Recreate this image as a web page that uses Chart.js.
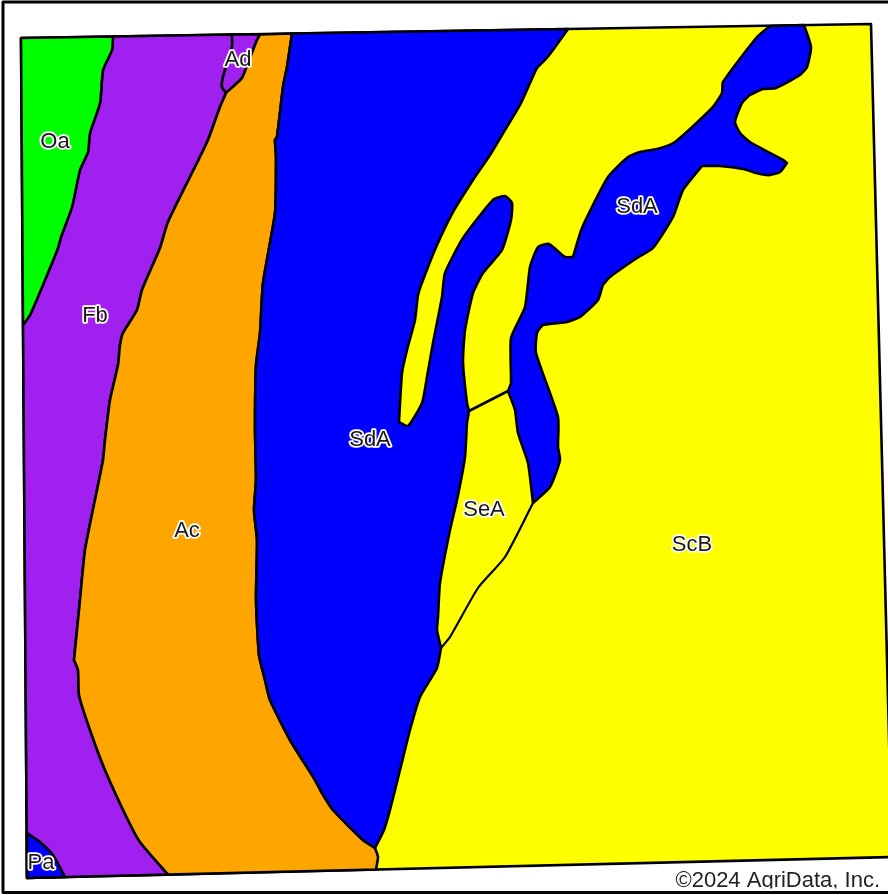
<!DOCTYPE html>
<html><head><meta charset="utf-8">
<style>html,body{margin:0;padding:0;background:#fff;overflow:hidden}canvas{display:block;filter:blur(0.6px)}</style>
<script src="https://cdn.jsdelivr.net/npm/chart.js@4"></script>
</head><body><canvas id="c" width="888" height="895"></canvas>
<script>
// Map units: x/y of the soil map sheet. A repeated vertex marks a sharp corner.
const fieldOutline=[[21,38],[871,24],[892,857],[27,878]];
const frameOutline=[[3,2],[900,2],[900,892.5],[3,892.5],[3,2]];
const oaEast=[[113,36.5],[113,36.5],[112,50],[103,70],[100,103],[90,133],[88,152],[80,170],[72,207],[61,237],[58,248],[45,280],[30,315],[23,325],[23,325]];
const fbAcEdge=[[226,93],[226,93],[220,107],[208,140],[197,163],[168,222],[160,248],[142,290],[137,310],[123,333],[120,345],[118,365],[110,400],[105,440],[103,460],[97,490],[85,550],[80,600],[74,660],[74,660],[78,670],[79,695],[90,730],[105,770],[127,818],[140,842],[168,874.6],[168,874.6]];
const adEast=[[226,93],[226,93],[242,78],[248,63],[257,40],[260,34.5],[260,34.5]];
const adWest=[[232,34.5],[232,34.5],[232,47],[223,77],[222,87],[226,93],[226,93]];
const acSdaEdge=[[292,33.5],[292,33.5],[287,67],[283,87],[277,137],[275,140],[276,157],[275,213],[263,283],[260,333],[256,365],[255,430],[256,480],[254,510],[257,540],[256,600],[259,655],[265,680],[270,700],[290,740],[315,780],[322,793],[333,810],[363,840],[375,848],[375,848]];
const acFoot=[[375,848],[378,857],[376,869.5],[376,869.5]];
const sdaEast=[[568,29],[568,29],[553,50],[545,60],[537,68],[530,83],[520,105],[505,130],[490,155],[473,180],[453,212],[437,245],[423,280],[418,295],[415,320],[407,350],[402,373],[399,422],[399,422],[408,426],[422,403],[427,377],[433,343],[442,297],[445,273],[463,238],[493,200],[505,196],[512,203],[511,220],[502,250],[483,273],[473,293],[465,330],[463,362],[467,403],[469,411],[469,411],[467,423],[465,457],[457,500],[450,530],[440,583],[438,617],[437,630],[441,648],[441,648],[437,668],[420,697],[410,730],[400,770],[390,810],[384,830],[375,848],[375,848]];
const sdaNorth=[[508,391],[508,391],[511,383],[511,338],[525,307],[530,267],[538,247],[549,244],[565,257],[573,257],[573,257],[582,228],[608,177],[628,157],[640,152],[657,149],[675,142],[712,108],[722,93],[723,82],[757,37],[770,26],[770,26],[804,25],[804,25],[811,47],[807,67],[800,75],[776,88],[763,89],[750,95],[742,103],[735,122],[740,133],[750,142],[783,160],[787,163],[787,163],[780,172],[770,175],[760,174],[743,169],[720,166],[702,166],[702,166],[683,190],[673,217],[653,248],[637,258],[610,277],[603,285],[598,300],[580,317],[567,322],[543,325],[537,333],[536,353],[558,417],[558,447],[560,460],[550,487],[533,503],[533,503],[528,463],[518,433],[515,410],[508,391],[508,391]];
const seaNorth=[[469,411],[508,391]];
const seaSouth=[[533,503],[505,557],[478,588],[450,637],[441,648]];
const paOutline=[[27,833],[27,833],[40,842],[53,855],[65,877],[65,877],[27,878],[27,878]];
const soilNames=['Oa','Ad','Fb','SdA','SdA','Ac','SeA','ScB','Pa'];
const soilSpotsX=[55,238,95,370,637,187,484,692,41];
const soilSpotsY=[142,60,316,440,207,531,510,545,863];
const creditText='©2024 AgriData, Inc.';
const creditSpot=[880,881];

const pts=a=>a.map(p=>({x:p[0],y:p[1]}));
const closed=a=>pts([...a,a[0]]);
const back=a=>[...a].reverse();
const layer=(data,color,width,curve)=>({data,backgroundColor:color||'transparent',fill:color?'shape':false,borderColor:'#000',borderWidth:width||2.6,pointRadius:0,tension:curve===undefined?0.18:curve,borderJoinStyle:'round',borderCapStyle:'round'});

// Bottom-most first; reversed below since Chart.js paints the first dataset last.
const layers=[
 layer(closed(fieldOutline),'#ffff00',2.6,0),
 layer(closed([[23,325],[27,878],[27,878],...back(fbAcEdge),...back(adWest),[113,36.5],...oaEast]),'#a020f0'),
 layer(closed([[21,38],[21,38],...oaEast,[21,38]]),'#00ff00'),
 layer(closed([...adWest,...adEast]),'#a020f0'),
 layer(closed([...adEast,...acSdaEdge,...acFoot,...back(fbAcEdge)]),'#ffa500'),
 layer(closed([...acSdaEdge,...back(sdaEast)]),'#0000ff'),
 layer(pts(sdaNorth),'#0000ff'),
 layer(pts(seaNorth),null,2.6,0),
 layer(pts(seaSouth),null,2.2),
 layer(closed(paOutline),'#0000ff'),
 layer(pts(frameOutline),null,3,0)
];

const mapText={id:'mapText',afterDatasetsDraw(chart){
  const {ctx,scales:{x,y}}=chart;
  ctx.save();
  ctx.font='22px "Liberation Sans",Arial,sans-serif';
  ctx.textAlign='center';ctx.textBaseline='middle';ctx.lineJoin='round';
  soilNames.forEach((n,i)=>{
    const px=x.getPixelForValue(soilSpotsX[i]),py=y.getPixelForValue(soilSpotsY[i]);
    ctx.lineWidth=3.5;ctx.strokeStyle='#fff';ctx.strokeText(n,px,py);
    ctx.fillStyle='#1a1a1a';ctx.fillText(n,px,py);
  });
  ctx.beginPath();ctx.rect(0,0,chart.width,y.getPixelForValue(888.5));ctx.clip();
  ctx.font='22px "Liberation Sans",Arial,sans-serif';
  ctx.textAlign='right';ctx.fillStyle='#222';
  ctx.fillText(creditText,x.getPixelForValue(creditSpot[0]),y.getPixelForValue(creditSpot[1]));
  ctx.restore();
}};

new Chart(document.getElementById('c'),{
  type:'line',
  data:{datasets:layers.reverse()},
  options:{responsive:false,animation:false,
    devicePixelRatio:1,
    layout:{padding:0},
    plugins:{legend:{display:false},tooltip:{enabled:false},title:{display:false}},
    scales:{x:{type:'linear',min:0,max:888,display:false},y:{type:'linear',min:0,max:895,reverse:true,display:false}}
  },
  plugins:[mapText]
});
</script></body></html>
